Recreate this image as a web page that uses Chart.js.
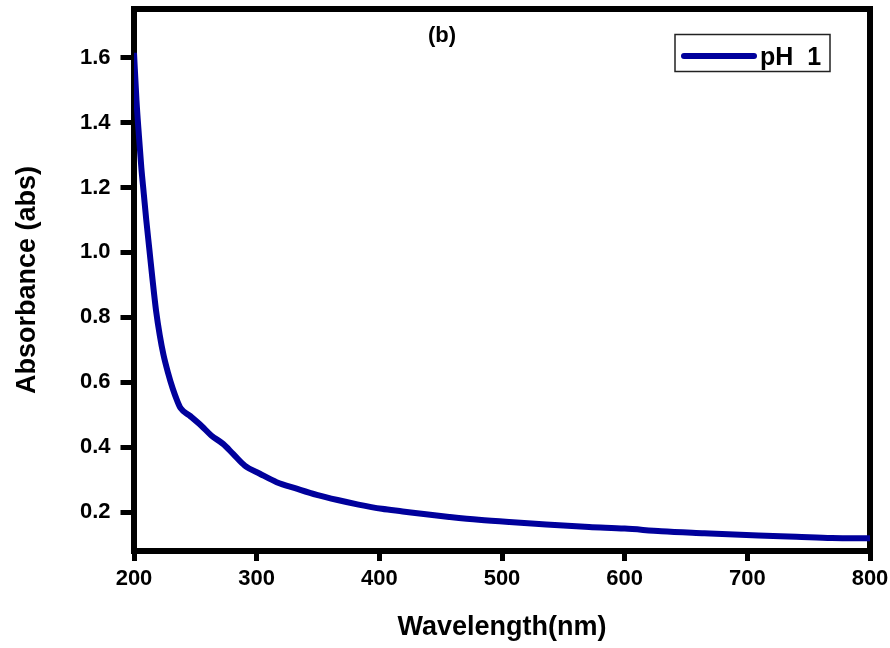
<!DOCTYPE html>
<html>
<head>
<meta charset="utf-8">
<script src="https://cdn.jsdelivr.net/npm/chart.js@4/dist/chart.umd.min.js"></script>
<style>
  html, body { margin: 0; padding: 0; background: #fff; }
  canvas { display: block; }
</style>
</head>
<body>
<canvas id="c" width="890" height="648"></canvas>
<script>
// ---- Data ----
const wavelengths = [200, 202, 204, 206, 208, 210, 212.5, 215, 218, 221,
  224, 227.6, 231.7, 235, 238, 245.4, 254.9, 263, 272.6, 280.8,
  290.3, 302.6, 316.3, 332.6, 349, 366, 383, 402, 419, 438,
  457, 481, 506, 536, 571, 600, 630, 665, 709, 740, 769, 800];
const absorbance = [1.615, 1.47, 1.36, 1.26, 1.18, 1.10, 1.01, 0.92, 0.82, 0.745,
  0.685, 0.631, 0.579, 0.545, 0.52, 0.497, 0.466, 0.436, 0.41, 0.379,
  0.343, 0.318, 0.292, 0.272, 0.253, 0.237, 0.223, 0.21, 0.202, 0.193,
  0.185, 0.176, 0.169, 0.162, 0.154, 0.149, 0.141, 0.135, 0.128, 0.124, 0.12, 0.119];
const seriesLabel = 'pH 1';
const panelLabel = '(b)';
const xTitle = 'Wavelength(nm)';
const yTitle = 'Absorbance (abs)';
const xTicks = [200, 300, 400, 500, 600, 700, 800];
const yTicks = [0.2, 0.4, 0.6, 0.8, 1.0, 1.2, 1.4, 1.6];

const FONT = '"Liberation Sans", Arial, Helvetica, sans-serif';
const LINE_COLOR = '#00009c';

const boxPlugin = {
  id: 'boxPlugin',
  beforeDatasetsDraw(chart) {
    const {ctx, chartArea: a} = chart;
    ctx.save();
    ctx.strokeStyle = '#000';
    ctx.lineWidth = 6;
    ctx.lineJoin = 'miter';
    ctx.strokeRect(a.left, a.top, a.right - a.left, a.bottom - a.top);
    ctx.restore();
  },
  afterDraw(chart) {
    const {ctx, chartArea: a} = chart;
    ctx.save();
    // panel label
    ctx.fillStyle = '#000';
    ctx.font = 'bold 22px ' + FONT;
    ctx.textAlign = 'center';
    ctx.textBaseline = 'middle';
    ctx.fillText(panelLabel, a.left + 308, a.top + 27);
    // legend box
    const bx = a.right - 195, by = a.top + 25.5, bw = 155, bh = 37;
    ctx.strokeStyle = '#222';
    ctx.lineWidth = 1.5;
    ctx.strokeRect(bx, by, bw, bh);
    const ds = chart.data.datasets[0];
    ctx.strokeStyle = ds.borderColor;
    ctx.lineWidth = 6;
    ctx.lineCap = 'round';
    ctx.beginPath();
    ctx.moveTo(bx + 9, by + 21.5);
    ctx.lineTo(bx + 79, by + 21.5);
    ctx.stroke();
    ctx.fillStyle = '#000';
    ctx.font = 'bold 25px ' + FONT;
    ctx.textAlign = 'left';
    ctx.textBaseline = 'alphabetic';
    try { ctx.wordSpacing = '7px'; } catch (e) {}
    ctx.fillText(ds.label, bx + 85, by + 30.5);
    ctx.restore();
  }
};

new Chart(document.getElementById('c'), {
  type: 'line',
  data: {
    datasets: [{
      label: seriesLabel,
      data: wavelengths.map((w, i) => ({x: w, y: absorbance[i]})),
      borderColor: LINE_COLOR,
      backgroundColor: LINE_COLOR,
      borderWidth: 6,
      pointRadius: 0,
      cubicInterpolationMode: 'monotone',
      fill: false
    }]
  },
  options: {
    responsive: false,
    animation: false,
    devicePixelRatio: 1,
    layout: { padding: { top: 9, right: 20, left: 0, bottom: 0 } },
    plugins: {
      legend: { display: false },
      tooltip: { enabled: false }
    },
    scales: {
      x: {
        type: 'linear',
        min: 200, max: 800,
        afterBuildTicks(scale) { scale.ticks = xTicks.map(v => ({value: v})); },
        afterFit(scale) { scale.height = 97; scale.paddingLeft = 0; scale.paddingRight = 0; },
        grid: { drawOnChartArea: false, drawTicks: true, tickLength: 10, tickWidth: 5, color: '#000' },
        border: { display: true, width: 6, color: '#000' },
        ticks: {
          color: '#000', padding: 5,
          font: { family: FONT, size: 22, weight: 'bold' },
          callback: v => String(v)
        },
        title: {
          display: true, text: xTitle, color: '#000',
          font: { family: FONT, size: 27, weight: 'bold' },
          padding: { top: 0, bottom: 4 }
        }
      },
      y: {
        type: 'linear',
        min: 0.08, max: 1.75,
        afterBuildTicks(scale) { scale.ticks = yTicks.map(v => ({value: v})); },
        afterFit(scale) { scale.width = 134; scale.paddingTop = 0; scale.paddingBottom = 0; },
        grid: { drawOnChartArea: false, drawTicks: true, tickLength: 13.5, tickWidth: 5, color: '#000' },
        border: { display: true, width: 6, color: '#000' },
        ticks: {
          color: '#000', padding: 10,
          font: { family: FONT, size: 22, weight: 'bold' },
          callback: v => Number(v).toFixed(1)
        },
        title: {
          display: true, text: yTitle, color: '#000',
          font: { family: FONT, size: 27, weight: 'bold' },
          padding: { top: 11, bottom: 0 }
        }
      }
    }
  },
  plugins: [boxPlugin]
});
</script>
</body>
</html>
